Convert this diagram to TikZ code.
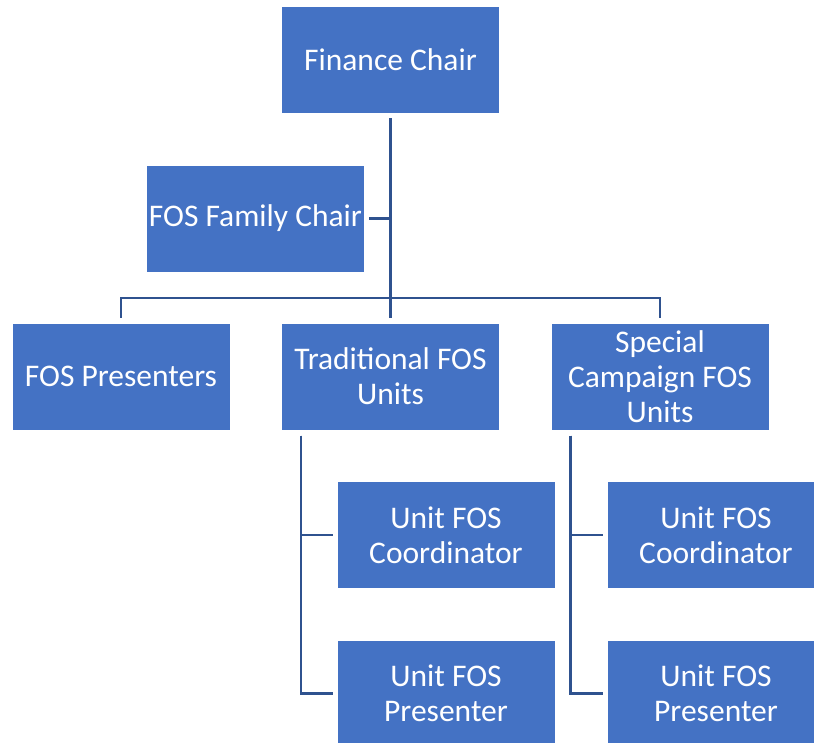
\documentclass[tikz,border=0pt]{standalone}
\usepackage{fontspec}
\setmainfont{Carlito}
\definecolor{boxblue}{RGB}{68,114,196}
\definecolor{lineblue}{RGB}{47,82,143}
\tikzset{
	unit/.style={fill=boxblue, draw=white, line width=1pt, minimum width=218pt, minimum height=107pt, inner sep=0pt, align=center, text=white, font=\fontsize{31.5}{35}\selectfont},
	conn/.style={draw=lineblue, line width=2.5pt}
}

\begin{document}
\begin{tikzpicture}[x=1pt, y=-1pt]
			%%%%% START %%%%%
			\useasboundingbox (0, 0) rectangle (814, 742);
			
			\node[unit] (fin) at (390.5, 60) {Finance Chair};
			\node[unit] (fam) at (255.5, 218.5) {FOS Family Chair};
			
			\node[unit] (pres) at (121, 376.5) {FOS Presenters};
			\node[unit] (trad) at (390.5, 376.5) {Traditional FOS\\Units};
			\node[unit] (spec) at (660, 376.5) {Special\\Campaign FOS\\Units};
			
			\node[unit] (ucoL) at (446, 535) {Unit FOS\\Coordinator};
			\node[unit] (upreL) at (446, 693.5) {Unit FOS\\Presenter};
			\node[unit] (ucoR) at (716, 535) {Unit FOS\\Coordinator};
			\node[unit] (upreR) at (716, 693.5) {Unit FOS\\Presenter};
			
			\coordinate (bus) at (390, 298);
			
			\draw[conn, shorten <=4pt, shorten >=5pt] (fin.south) -- (trad.north);
			\draw[conn, shorten <=4pt] (fam.east) -- (fam.east -| fin.south);
			\draw[conn, shorten <=5pt, shorten >=5pt] (pres.north) -- (pres.north |- bus) -| (spec.north);
			
			\draw[conn, shorten >=4pt] ([xshift=20pt, yshift=-5pt]trad.south west) |- (ucoL.west);
			\draw[conn, shorten >=4pt] ([xshift=20pt, yshift=-5pt]trad.south west) |- (upreL.west);
			\draw[conn, shorten >=4pt] ([xshift=20pt, yshift=-5pt]spec.south west) |- (ucoR.west);
			\draw[conn, shorten >=4pt] ([xshift=20pt, yshift=-5pt]spec.south west) |- (upreR.west);
			
			%%%%% END %%%%%
		\end{tikzpicture}
\end{document}
